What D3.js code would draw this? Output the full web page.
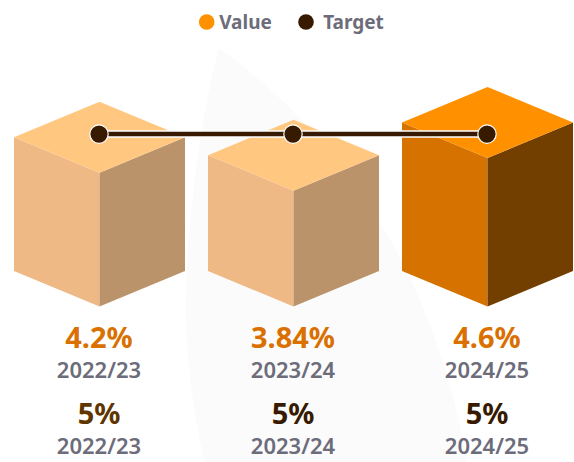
<!DOCTYPE html>
<html>
<head>
<meta charset="utf-8">
<script src="https://cdn.jsdelivr.net/npm/d3@7/dist/d3.min.js"></script>
<style>
html,body{margin:0;padding:0;background:#fff;overflow:hidden}
text{font-family:"Noto Sans",sans-serif;text-anchor:middle}
</style>
</head>
<body>
<svg id="chart" width="574" height="462"></svg>
<script>
// Data
const categories = ["2022/23", "2023/24", "2024/25"];
const valueLabels = ["4.2%", "3.84%", "4.6%"];
const targetLabels = ["5%", "5%", "5%"];
// Heights the cubes and the target line are drawn at (the reference does not scale them strictly by their labels)
const drawnValues = [4.2, 3.635, 4.66];
const drawnTargets = [5.41, 5.41, 5.41];
const highlighted = [false, false, true];
const targetLabelColors = ["#5f3500", "#371a00", "#371a00"];

const legendItems = ["Value", "Target"];

const palette = {
  muted: {top: "#ffc780", left: "#eeb985", right: "#ba936a"},
  strong: {top: "#ff9100", left: "#d67200", right: "#733f00"}
};
const targetColor = "#371a00";
const labelGrey = "#6c6c7a";
const valueText = "#d97000";

const W = 574, H = 462;
const svg = d3.select("#chart");

// Decorative background shape
svg.append("path")
  .attr("d", "M219,48 C202,110 186,220 186,307 C186,360 194,420 205,462 L467,462 C446,340 388,170 219,48 Z")
  .attr("fill", "#fbfbfc");

const x = d3.scalePoint().domain(categories).range([99.5, 487.5]);
const y = d3.scaleLinear().domain([0, 6]).range([306.5, 115.3]);

const halfW = 85.5, dip = 35.5;

const cubes = svg.append("g").selectAll("g")
  .data(categories.map((c, i) => ({c, v: drawnValues[i], strong: highlighted[i]})))
  .join("g");

const pts = a => a.map(p => p.join(",")).join(" ");

cubes.append("polygon")
  .attr("fill", d => (d.strong ? palette.strong : palette.muted).left)
  .attr("points", d => {
    const cx = x(d.c), t = y(d.v), b = y(0);
    return pts([[cx - halfW, t - dip], [cx, t], [cx, b], [cx - halfW, b - dip]]);
  });
cubes.append("polygon")
  .attr("fill", d => (d.strong ? palette.strong : palette.muted).right)
  .attr("points", d => {
    const cx = x(d.c), t = y(d.v), b = y(0);
    return pts([[cx + halfW, t - dip], [cx, t], [cx, b], [cx + halfW, b - dip]]);
  });
cubes.append("polygon")
  .attr("fill", d => (d.strong ? palette.strong : palette.muted).top)
  .attr("points", d => {
    const cx = x(d.c), t = y(d.v);
    return pts([[cx, t], [cx - halfW, t - dip], [cx, t - 2 * dip], [cx + halfW, t - dip]]);
  });

// Target line and dots
const targetPts = categories.map((c, i) => [x(c), y(drawnTargets[i])]);
const line = d3.line();
svg.append("path").attr("d", line(targetPts)).attr("fill", "none")
  .attr("stroke", "#fff").attr("stroke-width", 7.5);
svg.append("path").attr("d", line(targetPts)).attr("fill", "none")
  .attr("stroke", targetColor).attr("stroke-width", 4.5);
svg.append("g").selectAll("circle").data(targetPts).join("circle")
  .attr("cx", d => d[0] - 0.5).attr("cy", d => d[1]).attr("r", 9.2)
  .attr("fill", targetColor).attr("stroke", "#fff").attr("stroke-width", 1.2);

// Labels under the cubes
const rows = [
  {labels: valueLabels, baseline: 348, size: 29, color: () => valueText},
  {labels: categories, baseline: 378, size: 22, color: () => labelGrey, weight: 600},
  {labels: targetLabels, baseline: 424, size: 29, color: (d, i) => targetLabelColors[i]},
  {labels: categories, baseline: 454, size: 22, color: () => labelGrey, weight: 600}
];
rows.forEach(r => {
  svg.append("g").selectAll("text").data(r.labels).join("text")
    .attr("x", (d, i) => x(categories[i]) - 0.5)
    .attr("y", r.baseline)
    .attr("font-size", r.size)
    .attr("font-weight", r.weight || 700)
    .attr("fill", r.color)
    .text(d => d);
});

// Legend
const legendDots = [206.7, 306];
const legendTextX = [245.5, 353.5];
const legendColors = [palette.strong.top, targetColor];
const legend = svg.append("g").selectAll("g").data(legendItems).join("g");
legend.append("circle")
  .attr("cx", (d, i) => legendDots[i]).attr("cy", 22).attr("r", 7.8)
  .attr("fill", (d, i) => legendColors[i]);
legend.append("text")
  .attr("x", (d, i) => legendTextX[i]).attr("y", 28.5)
  .attr("font-size", 19).attr("font-weight", 700).attr("fill", labelGrey)
  .text(d => d);
</script>
</body>
</html>
